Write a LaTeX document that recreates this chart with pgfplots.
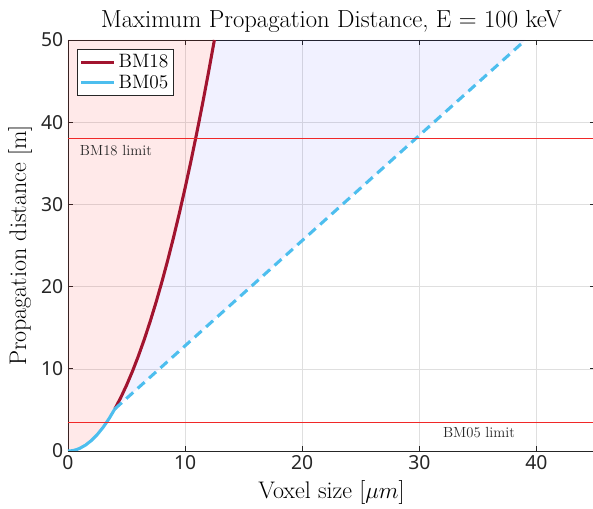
\documentclass[border=0pt]{standalone}
\usepackage{fontspec}
\setsansfont{Noto Sans}
\usepackage{pgfplots}
\pgfplotsset{compat=1.18}
\definecolor{bmred}{rgb}{0.635,0.078,0.184}
\definecolor{bmblue}{rgb}{0.301,0.745,0.933}
\definecolor{axgray}{rgb}{0.15,0.15,0.15}
\definecolor{limitred}{RGB}{240,40,40}
\begin{document}
\begin{tikzpicture}
\begin{axis}[
    scale only axis,
    width=395.25pt, height=308.25pt,
    xmin=0, xmax=45, ymin=0, ymax=50,
    xtick={0,10,20,30,40}, ytick={0,10,20,30,40,50},
    grid=major,
    major grid style={gray!25, line width=0.4pt},
    axis line style={axgray, line width=0.5pt},
    tick style={axgray, line width=0.5pt},
    tick align=inside,
    major tick length=4pt,
    ticklabel style={font=\sffamily\fontsize{14.5}{16}\selectfont, text=axgray},
    /pgf/number format/assume math mode=true,
    title={Maximum Propagation Distance, E = 100 keV},
    title style={font=\fontsize{18.5}{20}\selectfont, yshift=-4pt},
    xlabel={Voxel size [$\mu m$]},
    ylabel={Propagation distance [m]},
    label style={font=\fontsize{18}{20}\selectfont},
    xlabel style={yshift=-1pt},
    ylabel style={yshift=0pt},
    legend style={at={(0.0165,0.978)}, anchor=north west, draw=axgray,
        font=\fontsize{14.5}{16}\selectfont, inner sep=2pt,
        row sep=0pt, cells={anchor=west}},
    legend cell align=left,
    legend image code/.code={\draw[#1] (0pt,0pt) -- (25pt,0pt);},
]
% shaded regions
\addplot[fill=red, fill opacity=0.085, draw=none, forget plot] coordinates {
    (0,0) (0.5,0.08) (1,0.32) (1.5,0.72) (2,1.28) (2.5,2.0) (3,2.88)
    (3.5,3.92) (4,5.12) (4.5,6.48) (5,8.0) (5.5,9.68) (6,11.52)
    (6.5,13.52) (7,15.68) (7.5,18.0) (8,20.48) (8.5,23.12) (9,25.92)
    (9.5,28.88) (10,32.0) (10.5,35.28) (11,38.72) (11.5,42.32)
    (12,46.08) (12.5,50.0) (0,50) (0,0)
};
\addplot[fill=blue, fill opacity=0.055, draw=none, forget plot] coordinates {
    (4,5.12) (4.5,6.48) (5,8.0) (5.5,9.68) (6,11.52)
    (6.5,13.52) (7,15.68) (7.5,18.0) (8,20.48) (8.5,23.12) (9,25.92)
    (9.5,28.88) (10,32.0) (10.5,35.28) (11,38.72) (11.5,42.32)
    (12,46.08) (12.5,50.0) (39.0625,50) (4,5.12)
};
% BM18
\addplot[bmred, line width=2.3pt] coordinates {
    (4,5.12) (4.5,6.48) (5,8.0) (5.5,9.68) (6,11.52)
    (6.5,13.52) (7,15.68) (7.5,18.0) (8,20.48) (8.5,23.12) (9,25.92)
    (9.5,28.88) (10,32.0) (10.5,35.28) (11,38.72) (11.5,42.32)
    (12,46.08) (12.5,50.0)
};
\addlegendentry{BM18}
% BM05
\addplot[bmblue, line width=2.3pt] coordinates {
    (0,0) (0.25,0.02) (0.5,0.08) (0.75,0.18) (1,0.32) (1.5,0.72) (2,1.28)
    (2.5,2.0) (3,2.88) (3.5,3.92) (4,5.12)
};
\addlegendentry{BM05}
\addplot[bmblue, line width=2.3pt, dash pattern=on 7pt off 4.5pt, forget plot] coordinates {
    (4,5.12) (39.0625,50)
};
% limits
\addplot[limitred, line width=0.9pt, forget plot] coordinates {(0,38) (45,38)};
\addplot[limitred, line width=0.9pt, forget plot] coordinates {(0,3.5) (45,3.5)};
\node[anchor=west, inner sep=0pt, font=\fontsize{11}{12}\selectfont, text=axgray] at (axis cs:1.0,36.6) {BM18 limit};
\node[anchor=west, inner sep=0pt, font=\fontsize{11}{12}\selectfont, text=axgray] at (axis cs:32.0,2.3) {BM05 limit};
\end{axis}
\pgfresetboundingbox
\path[use as bounding box] (-51pt,-43.5pt) rectangle (393.75pt,338.25pt);
\end{tikzpicture}
\end{document}
